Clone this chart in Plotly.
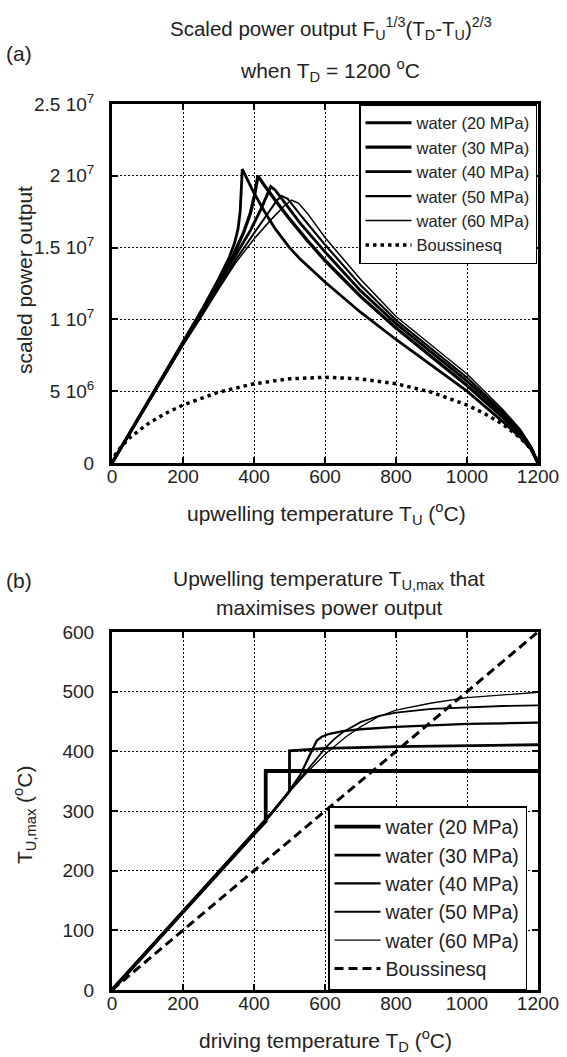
import plotly.graph_objects as go

W, H = 567, 1057
FONT = "Liberation Sans, Arial, sans-serif"

names = ["water (20 MPa)", "water (30 MPa)", "water (40 MPa)", "water (50 MPa)", "water (60 MPa)"]

# ---------- panel (a): scaled power output vs upwelling temperature ----------
a20_T = [0, 100, 200, 250, 300, 330, 345, 355, 361, 365, 367, 380, 400, 430, 460, 500, 530, 600, 700, 800, 900, 1000, 1100, 1150, 1180, 1200]
a20_V = [0, 4.2e6, 8.4e6, 1.05e7, 1.28e7, 1.43e7, 1.53e7, 1.63e7, 1.75e7, 1.9e7, 2.047e7, 1.98e7, 1.88e7, 1.75e7, 1.63e7, 1.5e7, 1.42e7, 1.26e7, 1.05e7, 8.6e6, 6.8e6, 5.0e6, 2.9e6, 1.8e6, 0.95e6, 0]

a30_T = [0, 100, 200, 250, 300, 340, 370, 390, 402, 411, 430, 460, 500, 550, 600, 700, 800, 900, 1000, 1100, 1150, 1180, 1200]
a30_V = [0, 4.2e6, 8.35e6, 1.04e7, 1.26e7, 1.44e7, 1.6e7, 1.74e7, 1.87e7, 2.0e7, 1.93e7, 1.83e7, 1.7e7, 1.55e7, 1.41e7, 1.16e7, 9.4e6, 7.4e6, 5.4e6, 3.2e6, 2.0e6, 1.05e6, 0]

a40_T = [0, 100, 200, 250, 300, 350, 390, 420, 438, 447, 460, 490, 530, 600, 700, 800, 900, 1000, 1100, 1150, 1180, 1200]
a40_V = [0, 4.15e6, 8.3e6, 1.03e7, 1.24e7, 1.45e7, 1.62e7, 1.77e7, 1.88e7, 1.925e7, 1.9e7, 1.8e7, 1.67e7, 1.47e7, 1.2e7, 9.7e6, 7.7e6, 5.7e6, 3.45e6, 2.15e6, 1.1e6, 0]

a50_T = [0, 100, 200, 250, 300, 350, 400, 440, 465, 478, 495, 530, 600, 700, 800, 900, 1000, 1100, 1150, 1180, 1200]
a50_V = [0, 4.15e6, 8.25e6, 1.02e7, 1.22e7, 1.42e7, 1.6e7, 1.74e7, 1.83e7, 1.86e7, 1.84e7, 1.73e7, 1.52e7, 1.24e7, 9.95e6, 7.95e6, 5.95e6, 3.6e6, 2.25e6, 1.15e6, 0]

a60_T = [0, 100, 200, 250, 300, 350, 400, 450, 485, 506, 525, 550, 600, 700, 800, 900, 1000, 1100, 1150, 1180, 1200]
a60_V = [0, 4.1e6, 8.2e6, 1.01e7, 1.21e7, 1.4e7, 1.56e7, 1.7e7, 1.79e7, 1.83e7, 1.81e7, 1.74e7, 1.57e7, 1.28e7, 1.02e7, 8.2e6, 6.2e6, 3.75e6, 2.35e6, 1.2e6, 0]

aB_T = [0, 10, 25, 50, 100, 150, 200, 300, 400, 500, 600, 700, 800, 900, 1000, 1050, 1100, 1150, 1175, 1190, 1200]
aB_V = [0, 0.61e6, 1.12e6, 1.76e6, 2.71e6, 3.44e6, 4.04e6, 4.93e6, 5.52e6, 5.86e6, 5.97e6, 5.86e6, 5.52e6, 4.93e6, 4.04e6, 3.44e6, 2.71e6, 1.76e6, 1.12e6, 0.61e6, 0]

# ---------- panel (b): optimal upwelling temperature vs driving temperature ----------
b20_T = [0, 100, 200, 300, 400, 433, 433, 600, 800, 1000, 1200]
b20_U = [0, 66, 132, 197, 262, 283, 367, 367, 367, 367, 367]

b30_T = [0, 100, 200, 300, 400, 450, 500, 500, 550, 600, 800, 1000, 1200]
b30_U = [0, 66, 132, 197, 263, 297, 333, 401, 403, 405, 408, 410, 411]

b40_T = [0, 100, 200, 300, 400, 450, 500, 530, 550, 565, 577, 590, 610, 650, 700, 800, 900, 1000, 1100, 1200]
b40_U = [0, 66, 132, 197, 262, 296, 334, 360, 385, 405, 418, 424, 429, 434, 437, 441, 444, 446, 447, 448]

b50_T = [0, 100, 200, 300, 400, 450, 500, 550, 580, 600, 625, 650, 700, 750, 800, 900, 1000, 1100, 1200]
b50_U = [0, 66, 132, 197, 262, 296, 333, 368, 390, 405, 420, 432, 449, 459, 465, 471, 474, 476, 477]

b60_T = [0, 100, 200, 300, 400, 450, 500, 550, 600, 630, 660, 700, 750, 800, 900, 1000, 1100, 1200]
b60_U = [0, 66, 132, 197, 262, 296, 332, 365, 395, 410, 425, 441, 458, 469, 481, 490, 495, 499]

bB_T = [0, 1200]
bB_U = [0, 600]

x_ticks = [0, 200, 400, 600, 800, 1000, 1200]
ya_ticks = [0, 5e6, 1e7, 1.5e7, 2e7, 2.5e7]
ya_text = ["0", "5 10<sup>6</sup>", "1 10<sup>7</sup>", "1.5 10<sup>7</sup>", "2 10<sup>7</sup>", "2.5 10<sup>7</sup>"]
yb_ticks = [0, 100, 200, 300, 400, 500, 600]

fig = go.Figure()

a_sets = [(a20_T, a20_V), (a30_T, a30_V), (a40_T, a40_V), (a50_T, a50_V), (a60_T, a60_V)]
a_widths = [2.8, 3.3, 2.9, 2.1, 1.5]
for (t, v), n, w in zip(a_sets, names, a_widths):
    fig.add_trace(go.Scatter(x=t, y=v, name=n, mode="lines", line=dict(color="black", width=w),
                             xaxis="x", yaxis="y", legend="legend"))
fig.add_trace(go.Scatter(x=aB_T, y=aB_V, name="Boussinesq", mode="lines",
                         line=dict(color="black", width=3.5, dash="3.5px,4px"),
                         xaxis="x", yaxis="y", legend="legend"))

b_sets = [(b20_T, b20_U), (b30_T, b30_U), (b40_T, b40_U), (b50_T, b50_U), (b60_T, b60_U)]
b_widths = [3.8, 2.8, 2.3, 1.8, 1.3]
for (t, u), n, w in zip(b_sets, names, b_widths):
    fig.add_trace(go.Scatter(x=t, y=u, name=n, mode="lines", line=dict(color="black", width=w),
                             xaxis="x2", yaxis="y2", legend="legend2"))
fig.add_trace(go.Scatter(x=bB_T, y=bB_U, name="Boussinesq", mode="lines",
                         line=dict(color="black", width=3, dash="9px,5px"),
                         xaxis="x2", yaxis="y2", legend="legend2"))

def px(x):
    return x / W

def py(y):
    return 1 - y / H

axis_common = dict(showline=True, linewidth=3, linecolor="black", mirror="ticks",
                   ticks="inside", ticklen=6, tickwidth=2, tickcolor="black",
                   showgrid=True, gridcolor="black", gridwidth=1, griddash="2px,2px",
                   zeroline=False, automargin=False,
                   tickfont=dict(family=FONT, size=19, color="#222"))

fig.update_layout(
    width=W, height=H, margin=dict(l=0, r=0, t=0, b=0, autoexpand=False),
    paper_bgcolor="white", plot_bgcolor="white", showlegend=True,
    font=dict(family=FONT, size=20, color="#222"),
    xaxis=dict(domain=[px(112), px(538)], anchor="y", range=[0, 1200], tickvals=x_ticks,
               ticklabelstandoff=-6, **axis_common),
    yaxis=dict(domain=[py(463), py(104)], anchor="x", range=[0, 2.5e7], tickvals=ya_ticks, ticktext=ya_text,
               ticklabelstandoff=11, **axis_common),
    xaxis2=dict(domain=[px(112), px(538)], anchor="y2", range=[0, 1200], tickvals=x_ticks,
                ticklabelstandoff=-6, **axis_common),
    yaxis2=dict(domain=[py(990), py(632)], anchor="x2", range=[0, 600], tickvals=yb_ticks,
                ticklabelstandoff=11, **axis_common),
    legend=dict(x=px(359), y=py(104), xanchor="left", yanchor="top", bgcolor="white",
                bordercolor="black", borderwidth=1.5, font=dict(family=FONT, size=16.5, color="#222"),
                tracegroupgap=0, itemwidth=46),
    legend2=dict(x=px(328), y=py(990), xanchor="left", yanchor="bottom", bgcolor="white",
                 bordercolor="black", borderwidth=1.5, font=dict(family=FONT, size=19.5, color="#222"),
                 tracegroupgap=0, itemwidth=46),
)

ann = [
    ("Scaled power output F<sub>U</sub><sup>1/3</sup>(T<sub>D</sub>-T<sub>U</sub>)<sup>2/3</sup>", 331, 28, 0, 20.5),
    ("(a)", 19, 54, 0, 21),
    ("when T<sub>D</sub> = 1200 <sup>o</sup>C", 330, 71, 0, 21),
    ("upwelling temperature T<sub>U</sub> (<sup>o</sup>C)", 326, 513, 0, 21),
    ("scaled power output", 24, 280, -90, 21),
    ("(b)", 19, 580, 0, 21),
    ("Upwelling temperature T<sub>U,max</sub> that", 329, 580, 0, 21),
    ("maximises power output", 329, 607, 0, 21),
    ("driving temperature T<sub>D</sub> (<sup>o</sup>C)", 325, 1040, 0, 21),
    ("T<sub>U,max</sub> (<sup>o</sup>C)", 24, 815, -90, 21),
]
for text, x, y, ang, size in ann:
    fig.add_annotation(text=text, xref="paper", yref="paper", x=px(x), y=py(y),
                       xanchor="center", yanchor="middle", showarrow=False, textangle=ang,
                       font=dict(family=FONT, size=size, color="#222"))

fig.write_html("out.html", config={"displayModeBar": False},
               post_script="document.body.style.margin='0px';")
